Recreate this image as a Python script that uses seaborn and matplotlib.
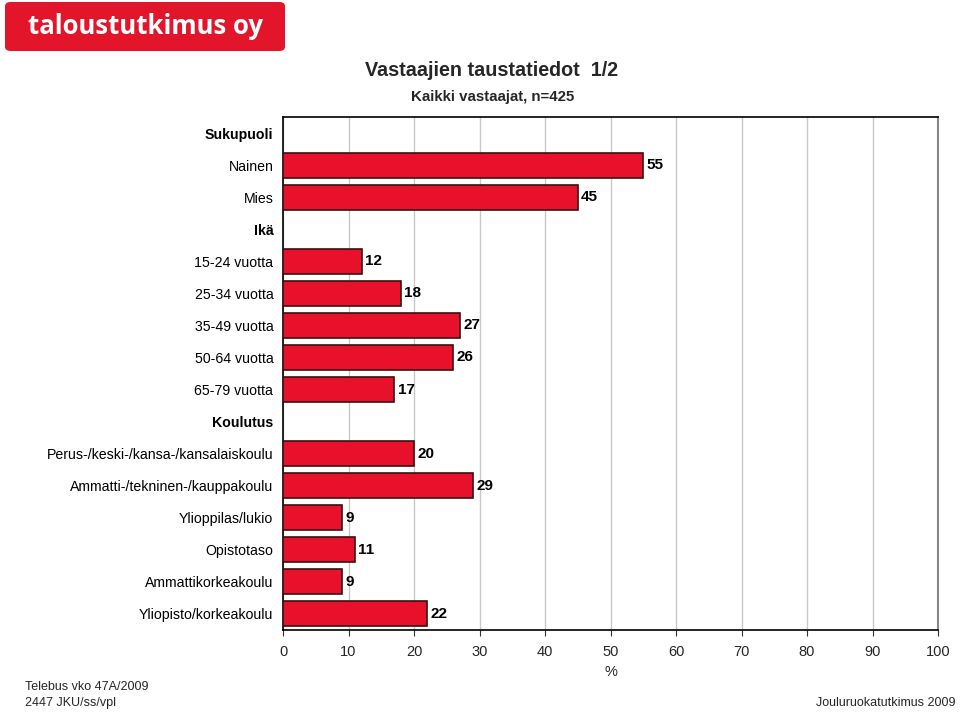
import matplotlib
matplotlib.use("Agg")
import matplotlib.pyplot as plt
import seaborn as sns
import pandas as pd
from matplotlib.patches import FancyBboxPatch

sns.set_theme(style="white")
plt.rcParams['font.family'] = ['Liberation Sans', 'DejaVu Sans']

headers = ["Sukupuoli", "Ikä", "Koulutus"]
row_labels = ["Sukupuoli", "Nainen", "Mies", "Ikä", "15-24 vuotta", "25-34 vuotta",
              "35-49 vuotta", "50-64 vuotta", "65-79 vuotta", "Koulutus",
              "Perus-/keski-/kansa-/kansalaiskoulu", "Ammatti-/tekninen-/kauppakoulu",
              "Ylioppilas/lukio", "Opistotaso", "Ammattikorkeakoulu",
              "Yliopisto/korkeakoulu"]
categories = ["Nainen", "Mies", "15-24 vuotta", "25-34 vuotta", "35-49 vuotta",
              "50-64 vuotta", "65-79 vuotta",
              "Perus-/keski-/kansa-/kansalaiskoulu", "Ammatti-/tekninen-/kauppakoulu",
              "Ylioppilas/lukio", "Opistotaso", "Ammattikorkeakoulu",
              "Yliopisto/korkeakoulu"]
values = [55, 45, 12, 18, 27, 26, 17, 20, 29, 9, 11, 9, 22]
xticks = [0, 10, 20, 30, 40, 50, 60, 70, 80, 90, 100]

df = pd.DataFrame({"label": categories, "value": values})

fig = plt.figure(figsize=(9.6, 7.12), dpi=100)
ax = fig.add_axes([0.2948, 0.1152, 0.6823, 0.7205])

sns.barplot(data=df, y="label", x="value", order=row_labels, orient="h",
            color="#E8102B", edgecolor="#3a1010", linewidth=1.2, width=0.78,
            saturation=1, ax=ax, zorder=3)

ax.set_xlim(0, 100)
ax.set_ylim(len(row_labels) - 0.5, -0.5)
ax.set_xticks(xticks)
ax.set_xticklabels([str(t) for t in xticks], fontsize=10.5)
ax.set_xlabel("%", fontsize=10.5, labelpad=4)
ax.set_ylabel("")
ax.tick_params(axis="y", length=0, pad=7, labelsize=10.2)
ax.tick_params(axis="x", length=4, width=0.8, color="#333333", pad=7, direction="out", bottom=True)
for lbl in ax.get_yticklabels():
    if lbl.get_text() in headers:
        lbl.set_fontweight("bold")
    lbl.set_color("black")

ax.grid(axis="x", color="#c8c8c8", linewidth=1, zorder=0)
ax.set_axisbelow(True)
for s in ["left", "top", "bottom"]:
    ax.spines[s].set_color("black")
    ax.spines[s].set_linewidth(1.2)
ax.spines["right"].set_color("#888888")
ax.spines["right"].set_linewidth(1.5)

pos = {l: i for i, l in enumerate(row_labels)}
for lab, v in zip(categories, values):
    ax.text(v + 0.5, pos[lab], str(v), va="center", ha="left", fontsize=11,
            fontweight="semibold", color="black")

# logo
fig.patches.append(FancyBboxPatch((5 / 960, 1 - 51 / 712), 280 / 960, 49 / 712,
                                  boxstyle="round,pad=0,rounding_size=0.006",
                                  transform=fig.transFigure, facecolor="#E3152B",
                                  edgecolor="none"))
fig.text(146 / 960, 1 - 26 / 712, "taloustutkimus oy", color="white", fontsize=18.5,
         fontweight="bold", family=["Open Sans", "DejaVu Sans"], ha="center", va="center")

fig.text(492 / 960, 1 - 70 / 712, "Vastaajien taustatiedot  1/2", ha="center", va="center",
         fontsize=14.2, fontweight="bold")
fig.text(493 / 960, 1 - 97 / 712, "Kaikki vastaajat, n=425", ha="center", va="center",
         fontsize=10.8, fontweight="bold")

fig.text(25 / 960, 1 - 687 / 712, "Telebus vko 47A/2009", ha="left", va="center", fontsize=9)
fig.text(25 / 960, 1 - 703 / 712, "2447 JKU/ss/vpl", ha="left", va="center", fontsize=9)
fig.text(956 / 960, 1 - 703 / 712, "Jouluruokatutkimus 2009", ha="right", va="center", fontsize=9)

fig.savefig("out.png", dpi=100)
